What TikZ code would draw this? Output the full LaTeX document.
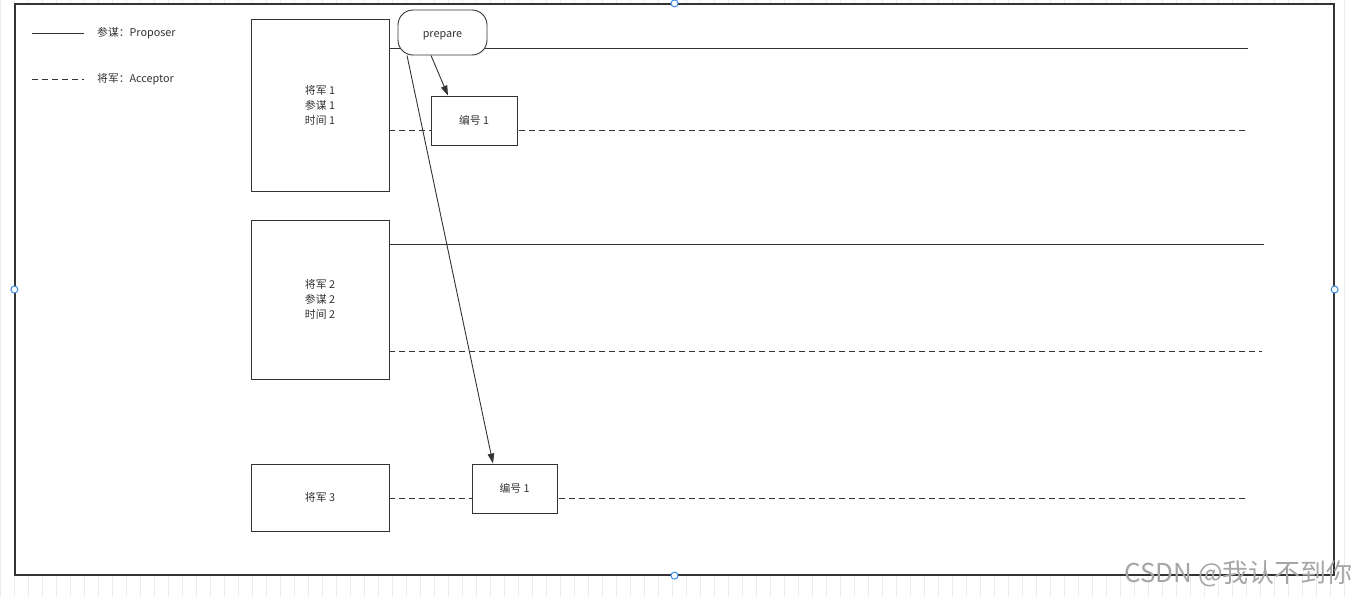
\documentclass[tikz,border=0pt]{standalone}
\usepackage{fontspec}
\setmainfont{Noto Sans CJK SC}
\usepackage{xcolor}
\usetikzlibrary{arrows.meta}
\definecolor{ink}{HTML}{333333}
\definecolor{handle}{HTML}{3D8AE5}
\pgfdeclarelayer{background}
\pgfsetlayers{background,main}

\begin{document}
\begin{tikzpicture}[
    x=1pt, y=-1pt,
    font=\fontsize{10.8}{15}\selectfont, text=ink,
    box/.style={draw=ink, line width=0.9pt, fill=white, align=center, inner sep=0pt},
    proposer/.style={draw=ink, line width=0.9pt},
    acceptor/.style={draw=ink, line width=0.9pt, dash pattern=on 6pt off 4pt},
    arrow/.style={draw=ink, line width=0.9pt, -{Triangle[length=10pt,width=6.5pt]}},
    handlept/.style={circle, draw=handle, line width=1pt, fill=white, minimum size=7pt, inner sep=0pt}
]
\useasboundingbox (0,0) rectangle (1356,597);
\begin{pgfonlayer}{background}
\draw[black!7, line width=0.6pt, step=14] (0,0) grid (1356,597);
\node[draw=ink, line width=1.2pt, fill=white, minimum width=1319, minimum height=571, inner sep=0pt] (frame) at (674.5,289.5) {};
\end{pgfonlayer}

% legend
\coordinate (lp0) at (32,33);  \coordinate (lp1) at (84,33);
\coordinate (la0) at (32,79);  \coordinate (la1) at (84,79);
\draw[proposer] (lp0) -- (lp1);
\draw[acceptor] (la0) -- (la1);
\node[anchor=west, inner sep=0pt] (lptext) at (97,33) {参谋：Proposer};
\node[anchor=west, inner sep=0pt] (latext) at (97,79) {将军：Acceptor};

% generals
\node[box, minimum width=138, minimum height=172] (gen1) at (320,105) {将军 1\\参谋 1\\时间 1};
\node[box, minimum width=138, minimum height=159] (gen2) at (320,299.5) {将军 2\\参谋 2\\时间 2};
\node[box, minimum width=138, minimum height=67] (gen3) at (320,497.5) {将军 3};

\node[box, rounded corners=15pt, minimum width=89, minimum height=45, text height=4pt, text depth=0pt] (prep) at (442.5,32.5) {\raisebox{-3pt}{prepare}};
\node[box, minimum width=86, minimum height=49] (num1) at (474,120.5) {编号 1};
\node[box, minimum width=85, minimum height=49] (num2) at (514.5,488.5) {编号 1};

% time lines
\coordinate (end1p) at (1248,48);
\coordinate (end1a) at (1248,130);
\coordinate (end2p) at (1264,244);
\coordinate (end2a) at (1262,351);
\coordinate (end3a) at (1248,498);
\begin{pgfonlayer}{background}
\draw[proposer] (gen1.east |- end1p) -- (end1p);
\draw[acceptor] (gen1.east |- end1a) -- (end1a);
\draw[proposer] (gen2.east |- end2p) -- (end2p);
\draw[acceptor] (gen2.east |- end2a) -- (end2a);
\draw[acceptor] (gen3.east |- end3a) -- (end3a);
\end{pgfonlayer}

\draw[arrow] ([xshift=-11.5pt]prep.south) -- ([xshift=-26pt]num1.north);
\draw[arrow] ([xshift=-35.5pt]prep.south) -- ([xshift=-21.5pt]num2.north);

% selection handles
\foreach \side in {north,south,east,west}
  \node[handlept] (h-\side) at (frame.\side) {};

\node[anchor=east, inner sep=0pt, text=black!35, font=\fontsize{26}{30}\selectfont] (mark) at (1353,574) {CSDN @我认不到你};
\end{tikzpicture}
\end{document}
